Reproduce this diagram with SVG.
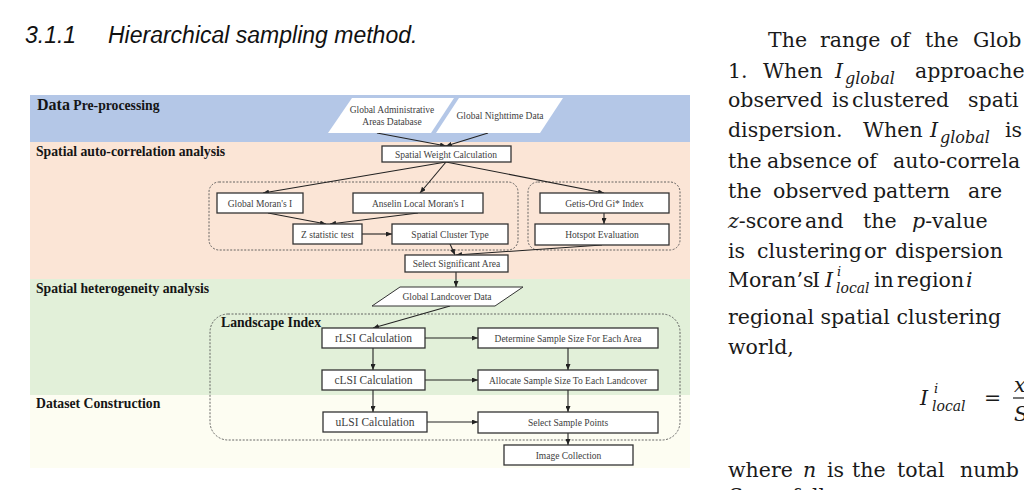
<svg xmlns="http://www.w3.org/2000/svg" width="1024" height="490" viewBox="0 0 1024 490">
<defs>
<marker id="ah" markerWidth="6" markerHeight="5" refX="6" refY="2.5" orient="auto" markerUnits="userSpaceOnUse">
<path d="M0,0 L6,2.5 L0,5 z" fill="#222"/>
</marker>
<style>
.box{fill:#fff;stroke:#333;stroke-width:1.3}
.nt{font-family:"Liberation Serif",serif;font-size:9.5px;fill:#404040;text-anchor:middle}
.lt{font-family:"Liberation Serif",serif;font-size:11.5px;fill:#404040;text-anchor:middle}
.sec{font-family:"Liberation Serif",serif;font-weight:bold;font-size:13.7px;fill:#151515}
.cont{fill:none;stroke:#555;stroke-width:0.9;stroke-dasharray:2 1.5}
.edge{fill:none;stroke:#222;stroke-width:1.1;marker-end:url(#ah)}
.body{font-family:"DejaVu Serif",serif;font-size:20.5px;fill:#1a1a1a}
.m{font-family:"DejaVu Serif",serif;font-style:italic;fill:#1a1a1a}
.title{font-family:"Liberation Sans",sans-serif;font-style:italic;font-size:23px;fill:#111}
</style>
</defs>
<rect width="1024" height="490" fill="#fff"/>

<text class="title" x="25" y="43">3.1.1</text>
<text class="title" x="108" y="43">Hierarchical sampling method.</text>

<g id="bands">
<rect x="30" y="95" width="660" height="47" fill="#b4c7e7"/>
<rect x="30" y="142" width="660" height="137" fill="#fbe5d6"/>
<rect x="30" y="279" width="660" height="116" fill="#e2f0d9"/>
<rect x="30" y="395" width="660" height="73" fill="#fdfdf2"/>
<text class="sec" x="37" y="110"><tspan font-size="16px">Data</tspan> Pre-processing</text>
<text class="sec" x="36" y="156">Spatial auto-correlation analysis</text>
<text class="sec" x="36" y="293">Spatial heterogeneity analysis</text>
<text class="sec" x="36" y="408">Dataset Construction</text>
</g>

<g id="containers">
<rect class="cont" x="209" y="182" width="309" height="68" rx="10"/>
<rect class="cont" x="528" y="182" width="152" height="68" rx="10"/>
<rect class="cont" x="210" y="314" width="470" height="126" rx="18"/>
<text class="sec" x="221" y="327" font-size="12.3px">Landscape Index</text>
</g>

<g id="connectors">
<line class="edge" x1="377" y1="133" x2="446" y2="146"/>
<line class="edge" x1="488" y1="133" x2="446" y2="146"/>
<line class="edge" x1="446" y1="162" x2="263" y2="193"/>
<line class="edge" x1="446" y1="162" x2="420" y2="193"/>
<line class="edge" x1="446" y1="162" x2="604" y2="193"/>
<line class="edge" x1="268" y1="213" x2="326" y2="224"/>
<line class="edge" x1="418" y1="213" x2="330" y2="224"/>
<line class="edge" x1="362" y1="234" x2="392" y2="234"/>
<line class="edge" x1="450" y1="244" x2="455" y2="255"/>
<line class="edge" x1="602" y1="245" x2="456" y2="255"/>
<line class="edge" x1="604" y1="213" x2="604" y2="224"/>
<line class="edge" x1="456" y1="272" x2="456" y2="287"/>
<line class="edge" x1="450" y1="306" x2="373" y2="328"/>
<line class="edge" x1="425" y1="338" x2="478" y2="338"/>
<line class="edge" x1="425" y1="380" x2="478" y2="380"/>
<line class="edge" x1="427" y1="422" x2="478" y2="422"/>
<line class="edge" x1="373" y1="348" x2="373" y2="370"/>
<line class="edge" x1="373" y1="390" x2="373" y2="412"/>
<line class="edge" x1="568" y1="348" x2="568" y2="370"/>
<line class="edge" x1="568" y1="390" x2="568" y2="412"/>
<line class="edge" x1="568" y1="433" x2="568" y2="445"/>
</g>

<g id="gaad">
<polygon points="352,98 454,98 431,133 328,133" fill="#fff"/>
<text class="nt" x="392" y="113">Global Administrative</text>
<text class="nt" x="392" y="125">Areas Database</text>
</g>
<g id="gnd">
<polygon points="459,98 563,98 540,133 436,133" fill="#fff"/>
<text class="nt" x="500" y="119">Global Nighttime Data</text>
</g>
<g id="swc">
<rect class="box" x="382" y="146" width="129" height="16"/>
<text class="nt" x="446" y="157.5">Spatial Weight Calculation</text>
</g>
<g id="gmi">
<rect class="box" x="217" y="193" width="86" height="20"/>
<text class="nt" x="260" y="206.5">Global Moran's I</text>
</g>
<g id="almi">
<rect class="box" x="353" y="193" width="130" height="20"/>
<text class="nt" x="418" y="206.5">Anselin Local Moran's I</text>
</g>
<g id="zst">
<rect class="box" x="293" y="224" width="69" height="20"/>
<text class="nt" x="327.5" y="237.5">Z statistic test</text>
</g>
<g id="sct">
<rect class="box" x="392" y="224" width="116" height="20"/>
<text class="nt" x="450" y="237.5">Spatial Cluster Type</text>
</g>
<g id="getis">
<rect class="box" x="540" y="193" width="129" height="20"/>
<text class="nt" x="604.5" y="206.5">Getis-Ord Gi* Index</text>
</g>
<g id="hotspot">
<rect class="box" x="535" y="224" width="134" height="21"/>
<text class="nt" x="602" y="238">Hotspot Evaluation</text>
</g>
<g id="ssa">
<rect class="box" x="405" y="255" width="103" height="17"/>
<text class="nt" x="456.5" y="267">Select Significant Area</text>
</g>
<g id="gld">
<polygon points="400,287 523,287 495,306 372,306" fill="#fff" stroke="#333" stroke-width="1"/>
<text class="nt" x="447" y="300">Global Landcover Data</text>
</g>
<g id="rlsi">
<rect class="box" x="322" y="328" width="103" height="20"/>
<text class="lt" x="373.5" y="342">rLSI Calculation</text>
</g>
<g id="clsi">
<rect class="box" x="322" y="370" width="103" height="20"/>
<text class="lt" x="373.5" y="384">cLSI Calculation</text>
</g>
<g id="ulsi">
<rect class="box" x="323" y="412" width="104" height="20"/>
<text class="lt" x="375" y="426">uLSI Calculation</text>
</g>
<g id="determine">
<rect class="box" x="478" y="328" width="180" height="20"/>
<text class="nt" x="568" y="341.5">Determine Sample Size For Each Area</text>
</g>
<g id="allocate">
<rect class="box" x="478" y="370" width="180" height="20"/>
<text class="nt" x="568" y="383.5">Allocate Sample Size To Each Landcover</text>
</g>
<g id="selectpts">
<rect class="box" x="478" y="412" width="180" height="21"/>
<text class="nt" x="568" y="426">Select Sample Points</text>
</g>
<g id="imgcoll">
<rect class="box" x="504" y="445" width="129" height="20"/>
<text class="nt" x="568.5" y="458.5">Image Collection</text>
</g>

<g id="bodytext">
<text class="body" y="47"><tspan x="768">The</tspan><tspan x="820">range</tspan><tspan x="890">of</tspan><tspan x="925">the</tspan><tspan x="973">Glob</tspan></text>
<text class="body" y="78"><tspan x="728">1.</tspan><tspan x="763">When</tspan><tspan x="915">approache</tspan></text>
<text class="m" x="835" y="78" font-size="20.5px">I</text>
<text class="m" x="845" y="84" font-size="16px">global</text>
<text class="body" y="107"><tspan x="728">observed</tspan><tspan x="832">is</tspan><tspan x="852">clustered</tspan><tspan x="968">spati</tspan></text>
<text class="body" y="137"><tspan x="728">dispersion.</tspan><tspan x="863">When</tspan><tspan x="1005">is</tspan></text>
<text class="m" x="930" y="137" font-size="20.5px">I</text>
<text class="m" x="940" y="143" font-size="16px">global</text>
<text class="body" y="168"><tspan x="728">the</tspan><tspan x="767">absence</tspan><tspan x="857">of</tspan><tspan x="893">auto-correla</tspan></text>
<text class="body" y="198"><tspan x="728">the</tspan><tspan x="773">observed</tspan><tspan x="873">pattern</tspan><tspan x="968">are</tspan></text>
<text class="body" y="228"><tspan x="728" class="m">z</tspan><tspan>-score</tspan><tspan x="805">and</tspan><tspan x="863">the</tspan><tspan x="912" class="m">p</tspan><tspan>-value</tspan></text>
<text class="body" y="258"><tspan x="728">is</tspan><tspan x="757">clustering</tspan><tspan x="864">or</tspan><tspan x="895">dispersion</tspan></text>
<text class="body" y="287"><tspan x="728">Moran’s</tspan><tspan x="812">I</tspan></text>
<text class="m" x="825" y="287" font-size="20.5px">I</text>
<text class="m" x="837" y="276" font-size="13px">i</text>
<text class="m" x="836" y="293" font-size="14px">local</text>
<text class="body" y="287"><tspan x="874">in</tspan><tspan x="897">region</tspan></text>
<text class="m" x="966" y="287" font-size="20.5px">i</text>
<text class="body" x="728" y="324">regional spatial clustering</text>
<text class="body" x="728" y="354">world,</text>
<text class="m" x="920" y="405" font-size="20.5px">I</text>
<text class="m" x="934" y="393" font-size="13px">i</text>
<text class="m" x="932" y="411" font-size="14px">local</text>
<text class="body" x="984" y="405">=</text>
<line x1="1013" y1="398" x2="1024" y2="398" stroke="#1a1a1a" stroke-width="1.2"/>
<text class="m" x="1014" y="392" font-size="20.5px">x</text>
<text class="m" x="1014" y="421" font-size="20.5px">S</text>
<text class="body" y="477"><tspan x="728">where</tspan><tspan x="803" class="m">n</tspan><tspan x="827">is</tspan><tspan x="852">the</tspan><tspan x="897">total</tspan><tspan x="960">numb</tspan></text>
<text class="body" y="503"><tspan x="728" class="m">S</tspan><tspan x="759">as</tspan><tspan x="792">follows</tspan></text>
<text class="m" x="743" y="508" font-size="15px">i</text>
</g>
</svg>
